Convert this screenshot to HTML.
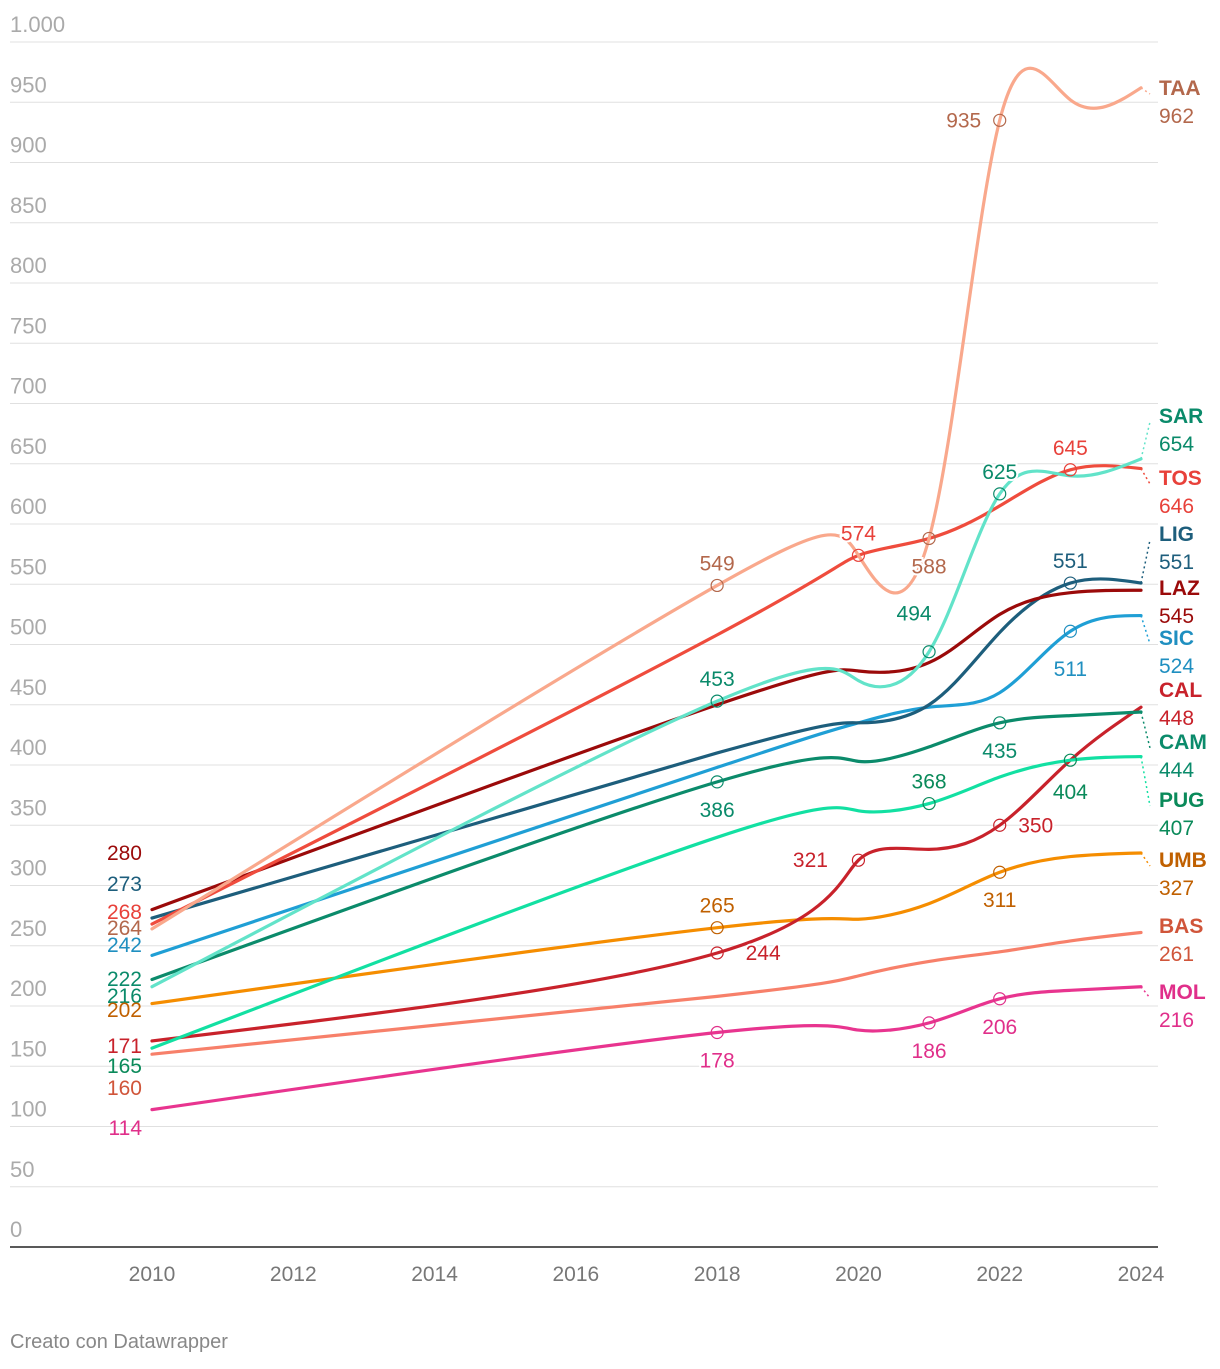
<!DOCTYPE html>
<html><head><meta charset="utf-8">
<style>
body{margin:0;background:#fff;font-family:"Liberation Sans",sans-serif;}
svg text{font-family:"Liberation Sans",sans-serif;}
</style></head>
<body>
<svg id="chart" width="1220" height="1364" xmlns="http://www.w3.org/2000/svg">
<g id="grid"></g>
<g id="lines"></g>
<g id="marks"></g>
<g id="labels"></g>
<text x="10" y="1348" font-size="20" fill="#888">Creato con Datawrapper</text>
</svg>
<script>
const years = [2010, 2018, 2020, 2021, 2022, 2023, 2024];
const yTicks = [0,50,100,150,200,250,300,350,400,450,500,550,600,650,700,750,800,850,900,950,1000];
const yTickLabels = ["0","50","100","150","200","250","300","350","400","450","500","550","600","650","700","750","800","850","900","950","1.000"];
const xTicks = [2010,2012,2014,2016,2018,2020,2022,2024];
const seriesNames = ["TAA","SAR","TOS","LIG","LAZ","SIC","CAL","CAM","PUG","UMB","BAS","MOL"];
const taa = [264,549,574,588,935,952,962];
const sar = [216,453,470,494,625,640,654];
const tos = [268,508,574,588,615,645,646];
const lig = [273,410,435,450,510,551,551];
const laz = [280,450,478,485,525,543,545];
const sic = [242,398,435,448,460,511,524];
const cal = [171,244,321,330,350,404,448];
const cam = [222,386,403,415,435,441,444];
const pug = [165,340,362,368,390,404,407];
const umb = [202,265,272,285,311,324,327];
const bas = [160,208,225,237,245,254,261];
const mol = [114,178,180,186,206,213,216];
const values = [taa,sar,tos,lig,laz,sic,cal,cam,pug,umb,bas,mol];
const lineColors = ["#f9a88c","#62e3c9","#ef4c3d","#1d5e7c","#9b0a0a","#1f9fd5","#c8222b","#0b8b6b","#12e0a2","#f58d00","#f7806a","#e8348f"];
const textColors = ["#b3684c","#0a8a6a","#e8413a","#1d5e7c","#9b0a0a","#1f8fc0","#c8222b","#0b8b6b","#0a8a5a","#c06000","#d0553a","#e02f8a"];
const rightY = [88,416,478,534,588,638,690,742,800,860,926,992];
const leftY = [928,996,912,884,853,945,1046,979,1066,1010,1088,1128];
const annotations = [[0,1,0,-22],[0,3,0,28],[0,4,-36,0],[1,1,0,-22],[1,3,-15,-38],[1,4,0,-22],[2,2,0,-22],[2,5,0,-22],[3,5,0,-22],[5,5,0,38],[6,1,46,0],[6,2,-48,0],[6,4,36,0],[7,1,0,28],[7,4,0,28],[8,3,0,-22],[8,5,0,32],[9,1,0,-22],[9,4,0,28],[11,1,0,28],[11,3,0,28],[11,4,0,28]];
const NS="http://www.w3.org/2000/svg";
const X0=152,X1=1141,Y0=1247,Y1=42;
function xs(yr){return X0+(yr-2010)*(X1-X0)/14;}
function ys(v){return Y0-v*(Y0-Y1)/1000;}
function mk(tag,attrs,parent){const e=document.createElementNS(NS,tag);for(const k in attrs)e.setAttribute(k,attrs[k]);parent.appendChild(e);return e;}
const grid=document.getElementById('grid');
yTicks.forEach((t,i)=>{
  if(t>0){const l=mk('line',{x1:10,x2:1158,y1:ys(t),y2:ys(t),stroke:'#e0e0e0','stroke-width':1},grid);
  
  }
  const tx=mk('text',{x:10,y:ys(t)-10,'font-size':22,fill:'#aaa'},grid);tx.textContent=yTickLabels[i];
  
  
});
const ax=mk('line',{x1:10,x2:1158,y1:Y0,y2:Y0,stroke:'#222','stroke-width':1.5},grid);


xTicks.forEach(t=>{const tx=mk('text',{x:xs(t),y:1281,'font-size':21,fill:'#777','text-anchor':'middle'},grid);tx.textContent=t;
  
  });
function ctrl(x){
  const n=x.length-1,a=new Array(n),b=new Array(n),r=new Array(n);
  a[0]=0;b[0]=2;r[0]=x[0]+2*x[1];
  for(let i=1;i<n-1;i++){a[i]=1;b[i]=4;r[i]=4*x[i]+2*x[i+1];}
  a[n-1]=2;b[n-1]=7;r[n-1]=8*x[n-1]+x[n];
  for(let i=1;i<n;i++){const m=a[i]/b[i-1];b[i]-=m;r[i]-=m*r[i-1];}
  a[n-1]=r[n-1]/b[n-1];
  for(let i=n-2;i>=0;i--)a[i]=(r[i]-a[i+1])/b[i];
  b[n-1]=(x[n]+a[n-1])/2;
  for(let i=0;i<n-1;i++)b[i]=2*x[i+1]-a[i+1];
  return [a,b];
}
function pathFor(vals){
  const px=years.map(xs),py=vals.map(ys);
  const cx=ctrl(px),cy=ctrl(py);
  let d=`M${px[0]},${py[0]}`;
  for(let i=0;i<px.length-1;i++)d+=` C${cx[0][i]},${cy[0][i]} ${cx[1][i]},${cy[1][i]} ${px[i+1]},${py[i+1]}`;
  return d;
}
const lines=document.getElementById('lines'),labels=document.getElementById('labels'),marks=document.getElementById('marks');
const order=[10,11,9,6,8,7,5,3,4,2,1,0];
order.forEach(i=>{
  const p=mk('path',{d:pathFor(values[i]),fill:'none',stroke:lineColors[i],'stroke-width':3.2,'stroke-linecap':'round'},lines);
  
  
});
values.forEach((vals,i)=>{
  const ey=ys(vals[6]);const ly=rightY[i]+14;
  if(Math.abs(ey-ly)>14){const c=mk('line',{x1:1141,y1:ey,x2:1150,y2:ly-8,stroke:lineColors[i],'stroke-width':1.5,'stroke-dasharray':'2,3'},labels);
    
    }
  const n=mk('text',{x:1159,y:rightY[i]+7,'font-size':21,'font-weight':'bold',fill:textColors[i]},labels);n.textContent=seriesNames[i];
  
  
  const v=mk('text',{x:1159,y:rightY[i]+35,'font-size':21,fill:textColors[i]},labels);v.textContent=vals[6];
  
  
  const l=mk('text',{x:142,y:leftY[i]+7,'font-size':21,fill:textColors[i],'text-anchor':'end'},labels);l.textContent=vals[0];
  
  
});
annotations.forEach(a=>{
  const [s,k,dx,dy]=a;const cx=xs(years[k]),cy=ys(values[s][k]);
  const c=mk('circle',{cx:cx,cy:cy,r:6,fill:'none',stroke:textColors[s],'stroke-width':1.2},marks);
  
  
  const t=mk('text',{x:cx+dx,y:cy+dy+7,'font-size':21,fill:textColors[s],'text-anchor':'middle',stroke:'#fff','stroke-width':4,'paint-order':'stroke'},marks);t.textContent=values[s][k];
  
  
});
</script>
</body></html>
